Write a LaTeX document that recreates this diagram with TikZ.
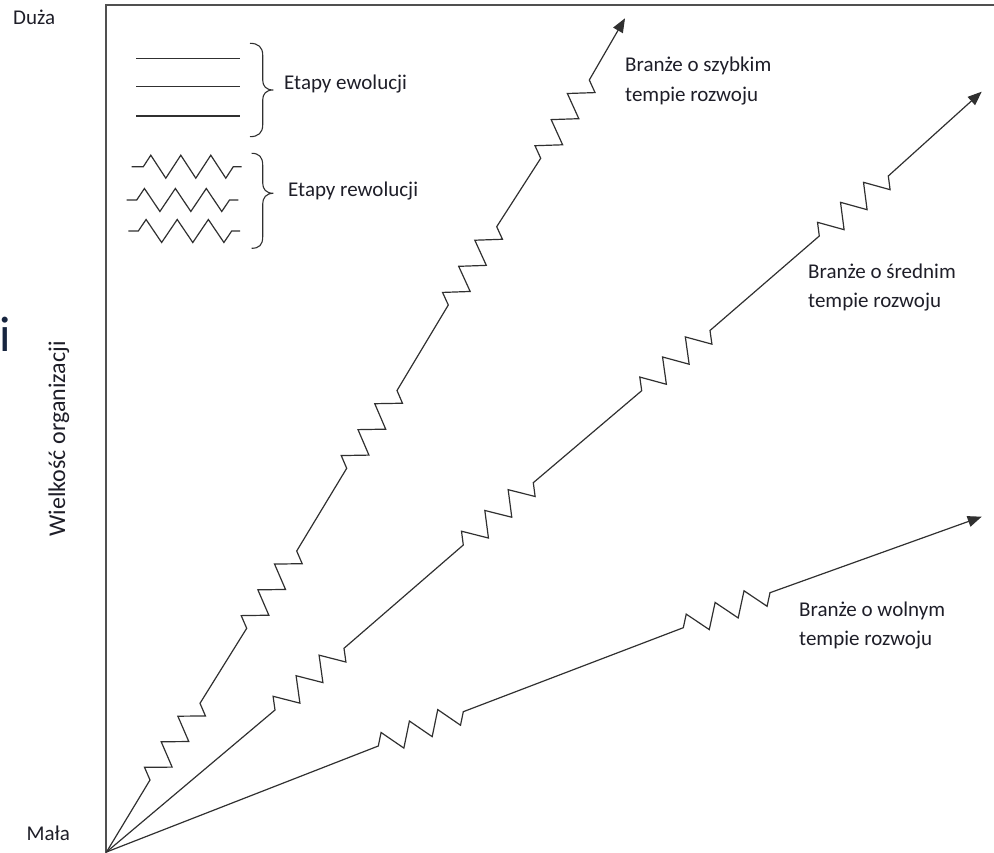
\documentclass[tikz,border=0pt]{standalone}
\usepackage{fontspec}
\setmainfont{Carlito}
\usetikzlibrary{calc,arrows.meta}
\definecolor{ink}{HTML}{1E1E28}
\definecolor{axisgray}{HTML}{505050}
\definecolor{linegray}{HTML}{303030}
\definecolor{navy}{HTML}{17253F}

% three-period zigzag between two named points (path fragment)
\newcommand\teeth[2]{%
  -- ($(#1)!0.08333!(#2)!11.5pt!90:(#2)$)
  -- ($(#1)!0.25!(#2)!11.5pt!-90:(#2)$)
  -- ($(#1)!0.41667!(#2)!11.5pt!90:(#2)$)
  -- ($(#1)!0.58333!(#2)!11.5pt!-90:(#2)$)
  -- ($(#1)!0.75!(#2)!11.5pt!90:(#2)$)
  -- ($(#1)!0.91667!(#2)!11.5pt!-90:(#2)$)
  -- (#2)}

\begin{document}
\begin{tikzpicture}[x=1pt,y=-1pt,
  axisline/.style={draw=axisgray,line width=2.2pt},
  growth/.style={draw=linegray,line width=1.2pt},
  legendline/.style={draw=linegray,line width=1.2pt},
  bracestroke/.style={draw=linegray,line width=1.1pt},
  arrowend/.style={-{Triangle[length=14pt,width=11pt]}},
  txt/.style={inner sep=0pt,anchor=base west,text=ink,font=\fontsize{21}{25}\selectfont},
]
\useasboundingbox (0,0) rectangle (994,853);

% axes
\draw[axisline] (106,853) -- (106,5) -- (994,5);

% common origin
\coordinate (O) at (106.5,852);

% fast-growth path
\coordinate (F1a) at (150,780);   \coordinate (F1b) at (200,703.3);
\coordinate (F2a) at (246.7,628.3); \coordinate (F2b) at (296.7,551);
\coordinate (F3a) at (346.7,468.3); \coordinate (F3b) at (397,390.5);
\coordinate (F4a) at (448.3,305); \coordinate (F4b) at (496.7,226.7);
\coordinate (F5a) at (540.7,158.3); \coordinate (F5b) at (589.3,80);
\coordinate (Ft) at (625,18.3);
\draw[growth,arrowend] (O) -- (F1a) \teeth{F1a}{F1b} -- (F2a) \teeth{F2a}{F2b}
  -- (F3a) \teeth{F3a}{F3b} -- (F4a) \teeth{F4a}{F4b} -- (F5a) \teeth{F5a}{F5b} -- (Ft);

% medium-growth path
\coordinate (M1a) at (275,710);   \coordinate (M1b) at (344,648.3);
\coordinate (M2a) at (463.3,545); \coordinate (M2b) at (533.3,482.7);
\coordinate (M3a) at (641.7,390.7); \coordinate (M3b) at (710,330.5);
\coordinate (M4a) at (819.3,236); \coordinate (M4b) at (888.3,176);
\coordinate (Mt) at (981.7,91.7);
\draw[growth,arrowend] (O) -- (M1a) \teeth{M1a}{M1b} -- (M2a) \teeth{M2a}{M2b}
  -- (M3a) \teeth{M3a}{M3b} -- (M4a) \teeth{M4a}{M4b} -- (Mt);

% slow-growth path
\coordinate (S1a) at (378.3,746); \coordinate (S1b) at (463.3,711.7);
\coordinate (S2a) at (683.3,627.7); \coordinate (S2b) at (770,592.7);
\coordinate (St) at (981.7,516.7);
\draw[growth,arrowend] (O) -- (S1a) \teeth{S1a}{S1b} -- (S2a) \teeth{S2a}{S2b} -- (St);

% legend: evolution
\draw[legendline] (136,58.3) -- (240,58.3);
\draw[legendline] (136,86.7) -- (240,86.7);
\draw[legendline] (136,116) -- (240,116);
\draw[bracestroke] (250,43.3) .. controls (258,43.3) and (262.7,47) .. (262.7,55)
  -- (262.7,80) .. controls (262.7,86) and (266,90) .. (273.3,90)
  .. controls (266,90) and (262.7,94) .. (262.7,100)
  -- (262.7,125) .. controls (262.7,133) and (258,136.7) .. (250,136.7);

% legend: revolution
\coordinate (L1s) at (131.7,166.7); \coordinate (L1a) at (143.3,166.7);
\coordinate (L1b) at (233.3,166.7); \coordinate (L1e) at (241.7,166.7);
\coordinate (L2s) at (126.7,200);   \coordinate (L2a) at (136.7,200);
\coordinate (L2b) at (229.5,200);   \coordinate (L2e) at (238.3,200);
\coordinate (L3s) at (128.3,231);   \coordinate (L3a) at (138.3,231);
\coordinate (L3b) at (231.7,231);   \coordinate (L3e) at (240,231);
\draw[legendline] (L1s) -- (L1a) \teeth{L1a}{L1b} -- (L1e);
\draw[legendline] (L2s) -- (L2a) \teeth{L2a}{L2b} -- (L2e);
\draw[legendline] (L3s) -- (L3a) \teeth{L3a}{L3b} -- (L3e);
\draw[bracestroke] (251.7,153.3) .. controls (259,153.3) and (262.7,157) .. (262.7,165)
  -- (262.7,183) .. controls (262.7,189) and (266,193.3) .. (273.3,193.3)
  .. controls (266,193.3) and (262.7,198) .. (262.7,204)
  -- (262.7,237) .. controls (262.7,245) and (259,248.3) .. (251.7,248.3);

% labels
\node[txt] (evo) at (284,89.3) {Etapy ewolucji};
\node[txt] (rev) at (288,196.7) {Etapy rewolucji};
\node[txt] (fast1) at (625,71.7) {Branże o szybkim};
\node[txt] (fast2) at (625,101.7) {tempie rozwoju};
\node[txt] (mid1) at (808,279) {Branże o średnim};
\node[txt] (mid2) at (808,308) {tempie rozwoju};
\node[txt] (slow1) at (799,616.7) {Branże o wolnym};
\node[txt] (slow2) at (799,645.7) {tempie rozwoju};
\node[txt] (big) at (13,25) {Duża};
\node[txt] (small) at (26.5,840) {Mała};
\node[txt,font=\fontsize{24}{28}\selectfont,rotate=90] (size) at (65,536.7) {Wielkość organizacji};
\node[txt,text=navy,font=\fontsize{50}{56}\selectfont] (stray) at (-0.5,352) {i};
\end{tikzpicture}
\end{document}
